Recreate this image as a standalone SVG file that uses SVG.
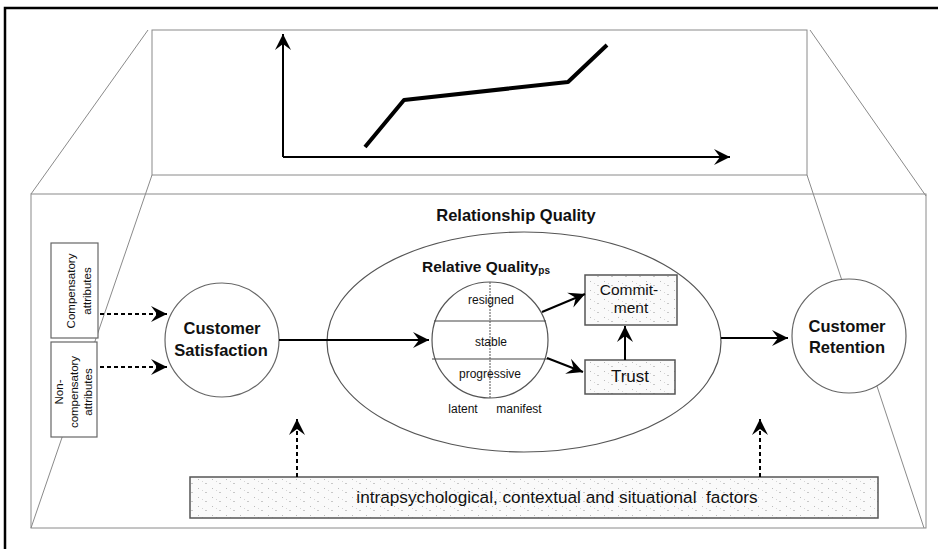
<svg xmlns="http://www.w3.org/2000/svg" width="938" height="549" viewBox="0 0 938 549">
<style>
text{font-family:"Liberation Sans",Arial,sans-serif;fill:#111}
.b{font-weight:bold}
.thin{fill:none;stroke:#8a8a8a;stroke-width:1}
.solid{fill:none;stroke:#000;stroke-width:2}
.dash{fill:none;stroke:#000;stroke-width:2;stroke-dasharray:4 3}
.sm{font-size:11.5px}
.lab{font-size:12px}
</style>
<defs>
<marker id="ah" viewBox="-17 -9 18 18" refX="0" refY="0" markerWidth="18" markerHeight="18" orient="auto" markerUnits="userSpaceOnUse">
<path d="M0,0 L-16,-8 L-10,0 L-16,8 Z" fill="#000"/>
</marker>
<pattern id="stip" width="14" height="9" patternUnits="userSpaceOnUse">
<rect width="14" height="9" fill="#fafafa"/>
<rect x="2" y="2" width="1" height="1" fill="#bbb"/>
<rect x="9" y="6" width="2" height="1" fill="#c8c8c8"/>
<rect x="6" y="4" width="1" height="1" fill="#d5d5d5"/>
</pattern>
</defs>
<rect width="938" height="549" fill="#fff"/>
<path d="M5,549 L5,8 L938,8" fill="none" stroke="#000" stroke-width="2.5"/>

<g id="room">
<rect x="152" y="30" width="655" height="145" class="thin"/>
<path class="thin" d="M148,30 L31,194 M810,30 L926,196 M152,175 L31,528 M807,175 L924,528"/>
<rect x="31" y="194" width="895" height="334" class="thin"/>
</g>

<g id="graph">
<path class="solid" d="M283,157 L283,34" marker-end="url(#ah)"/>
<path class="solid" d="M283,157 L730,157" marker-end="url(#ah)"/>
<path d="M365,147 L404,100 L568,82 L607,45" fill="none" stroke="#000" stroke-width="4" stroke-linejoin="round"/>
</g>

<g id="relationship-quality-label">
<text class="b" x="516" y="221" font-size="16.5" text-anchor="middle">Relationship Quality</text>
</g>

<g id="compensatory">
<rect x="51" y="243" width="47" height="95" fill="#fff" stroke="#666" stroke-width="1.2"/>
<text class="sm" transform="translate(74.5,291) rotate(-90)" text-anchor="middle">Compensatory</text>
<text class="sm" transform="translate(91,291) rotate(-90)" text-anchor="middle">attributes</text>
</g>

<g id="non-compensatory">
<rect x="51" y="342" width="46" height="95" fill="#fff" stroke="#666" stroke-width="1.2"/>
<text class="sm" transform="translate(63,392) rotate(-90)" text-anchor="middle">Non-</text>
<text class="sm" transform="translate(77.5,392) rotate(-90)" text-anchor="middle">compensatory</text>
<text class="sm" transform="translate(92,392) rotate(-90)" text-anchor="middle">attributes</text>
</g>

<g id="customer-satisfaction">
<circle cx="222" cy="340" r="57" fill="#fff" stroke="#666" stroke-width="1.2"/>
<text class="b" x="222" y="334" font-size="16.5" text-anchor="middle">Customer</text>
<text class="b" x="221" y="356" font-size="16.5" text-anchor="middle">Satisfaction</text>
</g>

<g id="relative-quality">
<ellipse cx="524" cy="342" rx="197" ry="110" fill="#fff" stroke="#555" stroke-width="1.2"/>
<text class="b" x="422" y="272" font-size="15.5">Relative Quality<tspan font-size="10" dy="2">ps</tspan></text>
</g>

<g id="quality-states">
<circle cx="490" cy="340" r="58" fill="#fff" stroke="#555" stroke-width="1.2"/>
<path d="M434,321 L546,321 M432,359 L548,359" stroke="#444" stroke-width="1.2" fill="none"/>
<path d="M490,282 L490,398" stroke="#555" stroke-width="1" stroke-dasharray="2 1" fill="none"/>
<text class="lab" x="491" y="304" text-anchor="middle">resigned</text>
<text class="lab" x="491" y="346" text-anchor="middle">stable</text>
<text class="lab" x="490" y="378" text-anchor="middle">progressive</text>
<text class="lab" x="463" y="413" text-anchor="middle">latent</text>
<text class="lab" x="519" y="413" text-anchor="middle">manifest</text>
</g>

<g id="commitment">
<rect x="585" y="275" width="92" height="50" fill="url(#stip)" stroke="#555" stroke-width="1.5"/>
<text x="629" y="295" font-size="15.5" text-anchor="middle">Commit-</text>
<text x="631" y="313" font-size="15.5" text-anchor="middle">ment</text>
</g>

<g id="trust">
<rect x="585" y="360" width="90" height="34" fill="url(#stip)" stroke="#555" stroke-width="1.5"/>
<text x="630" y="382" font-size="17" text-anchor="middle">Trust</text>
</g>

<g id="customer-retention">
<circle cx="849" cy="336" r="57" fill="#fff" stroke="#666" stroke-width="1.2"/>
<text class="b" x="847" y="332" font-size="16.5" text-anchor="middle">Customer</text>
<text class="b" x="847" y="353" font-size="16.5" text-anchor="middle">Retention</text>
</g>

<g id="factors">
<rect x="190" y="477" width="688" height="41" fill="url(#stip)" stroke="#555" stroke-width="1.5"/>
<text x="557" y="503" font-size="17.2" text-anchor="middle">intrapsychological, contextual and situational&#160; factors</text>
</g>

<g id="connectors">
<path class="dash" d="M100,314 L167,314" marker-end="url(#ah)"/>
<path class="dash" d="M100,367 L167,367" marker-end="url(#ah)"/>
<path class="solid" d="M279,340 L429,340" marker-end="url(#ah)"/>
<path class="solid" d="M542,312 L585,294" marker-end="url(#ah)"/>
<path class="solid" d="M547,358 L583,372" marker-end="url(#ah)"/>
<path class="solid" d="M625,360 L625,326" marker-end="url(#ah)"/>
<path class="solid" d="M721,338 L788,338" marker-end="url(#ah)"/>
<path class="dash" d="M297,477 L297,419" marker-end="url(#ah)"/>
<path class="dash" d="M760,477 L760,419" marker-end="url(#ah)"/>
</g>
</svg>
